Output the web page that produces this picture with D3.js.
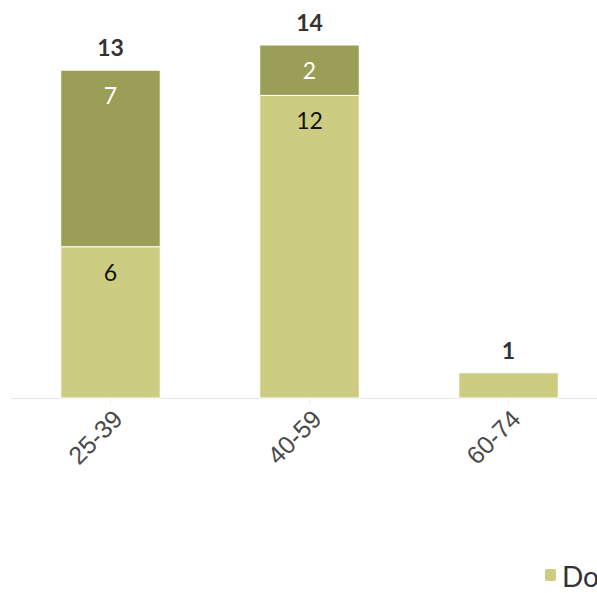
<!DOCTYPE html>
<html>
<head>
<meta charset="utf-8">
<script src="https://cdn.jsdelivr.net/npm/d3@7"></script>
<style>
  html, body { margin: 0; padding: 0; background: #fff; overflow: hidden; }
  svg { display: block; font-family: Lato, "Noto Sans", sans-serif; }
</style>
</head>
<body>
<svg id="chart" width="597" height="593"></svg>
<script>
// Age groups and stacked series (bottom series first)
const categories = ["25-39", "40-59", "60-74"];
const seriesNames = ["Donne", "Uomini"];
const seriesLower = [6, 12, 1];
const seriesUpper = [7, 2, 0];
const seriesColors = ["#cdcd82", "#9b9e56"];
const labelColors = ["#111", "#fff"];

const svg = d3.select("#chart");
const baseline = 398;

const rows = categories.map((c, i) => ({ cat: c, Donne: seriesLower[i], Uomini: seriesUpper[i] }));
const stack = d3.stack().keys(seriesNames)(rows);

const x = d3.scaleBand().domain(categories).range([11, 608]).paddingInner(0.5).paddingOuter(0.25);
const y = d3.scaleLinear().domain([0, 14]).range([baseline, 45]);

// axis line + ticks
const xAxis = d3.axisBottom(x).tickSize(6).tickSizeOuter(0);
const gx = svg.append("g").attr("transform", `translate(0,${baseline})`).call(xAxis);
gx.select(".domain").attr("stroke", "#e6e6e6").attr("d", `M11,0.5H608`);
gx.selectAll(".tick line").attr("stroke", "#eeeeee");
gx.selectAll(".tick text")
  .attr("fill", "#4a4a4a")
  .attr("font-size", 25)
  .attr("text-anchor", "end")
  .attr("dy", null)
  .attr("y", 0)
  .attr("transform", "translate(9,18) rotate(-45)")
  .attr("dominant-baseline", "middle");

// stacked bars
stack.forEach((layer, si) => {
  const g = svg.append("g");
  layer.forEach((d, i) => {
    const v = d[1] - d[0];
    if (v <= 0) return;
    const cat = categories[i];
    g.append("rect")
      .attr("x", x(cat))
      .attr("width", x.bandwidth())
      .attr("y", y(d[1]))
      .attr("height", y(d[0]) - y(d[1]))
      .attr("fill", seriesColors[si])
      .attr("stroke", "#fff")
      .attr("stroke-width", 1);
    // segment labels only where the segment is tall enough
    if (y(d[0]) - y(d[1]) > 40) {
      g.append("text")
        .attr("x", x(cat) + x.bandwidth() / 2)
        .attr("y", y(d[1]) + 34)
        .attr("text-anchor", "middle")
        .attr("font-size", 23)
        .attr("fill", labelColors[si])
        .text(v);
    }
  });
});

// totals above each stack
rows.forEach((r, i) => {
  const total = seriesLower[i] + seriesUpper[i];
  svg.append("text")
    .attr("x", x(r.cat) + x.bandwidth() / 2)
    .attr("y", y(total) - 14)
    .attr("text-anchor", "middle")
    .attr("font-size", 23)
    .attr("font-weight", "bold")
    .attr("fill", "#333")
    .text(total);
});

// legend
const lg = svg.append("g").attr("transform", "translate(545,569)");
lg.append("rect").attr("width", 11).attr("height", 12).attr("rx", 2).attr("fill", seriesColors[0]);
lg.append("text").attr("x", 17).attr("y", 11).attr("dominant-baseline", "middle")
  .attr("font-size", 28).attr("fill", "#333").text(seriesNames[0]);
</script>
</body>
</html>
